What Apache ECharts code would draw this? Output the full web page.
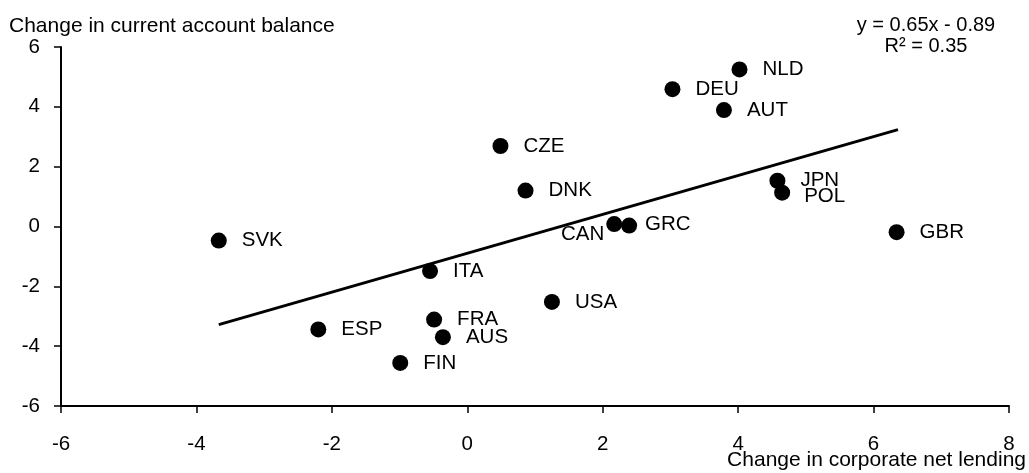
<!DOCTYPE html>
<html>
<head>
<meta charset="utf-8">
<script src="https://cdn.jsdelivr.net/npm/echarts@6/dist/echarts.min.js"></script>
<style>
html,body{margin:0;padding:0;background:#fff;}
#chart{width:1029px;height:473px;}
</style>
</head>
<body>
<div id="chart"></div>
<script>
// Country codes
var countries = ['SVK','ESP','FIN','ITA','FRA','AUS','CZE','DNK','USA','CAN','GRC','DEU','AUT','NLD','JPN','POL','GBR'];
// Change in corporate net lending (x)
var xValues = [-3.67,-2.20,-0.99,-0.55,-0.49,-0.36,0.49,0.86,1.25,2.17,2.39,3.03,3.79,4.02,4.58,4.65,6.34];
// Change in current account balance (y)
var yValues = [-0.47,-3.44,-4.56,-1.49,-3.11,-3.70,2.69,1.20,-2.52,0.08,0.03,4.59,3.89,5.25,1.53,1.13,-0.19];
// Trend line end points as drawn
var trendX = [-3.67, 6.36];
var trendY = [-3.28, 3.24];
// Texts
var yTitle = 'Change in current account balance';
var xTitle = 'Change in corporate net lending';
var eqText = 'y = 0.65x - 0.89';
var r2Text = 'R\u00b2 = 0.35';

var FONT = '"Liberation Sans", Arial, sans-serif';

var labelOverrides = {
  CAN: {position: 'left', distance: 2, offset: [0, 10]},
  GRC: {position: 'right', distance: 8, offset: [0, -1]},
  POL: {position: 'right', distance: 14, offset: [0, 4]}
};

var pts = countries.map(function (c, i) {
  var item = {name: c, value: [xValues[i], yValues[i]]};
  if (labelOverrides[c]) item.label = labelOverrides[c];
  return item;
});

var trendData = trendX.map(function (x, i) { return [x, trendY[i]]; });

var chart = echarts.init(document.getElementById('chart'), null, {renderer: 'canvas'});
chart.setOption({
  animation: false,
  backgroundColor: '#fff',
  grid: {left: 61, right: 20, top: 47, bottom: 67, containLabel: false},
  xAxis: {
    type: 'value', min: -6, max: 8, interval: 2,
    splitLine: {show: false},
    axisLine: {show: true, onZero: false, lineStyle: {color: '#000', width: 2}},
    axisTick: {show: true, length: 7, lineStyle: {color: '#000', width: 1.5}},
    axisLabel: {color: '#000', fontSize: 20.5, fontFamily: FONT, margin: 28}
  },
  yAxis: {
    type: 'value', min: -6, max: 6, interval: 2,
    splitLine: {show: false},
    axisLine: {show: true, onZero: false, lineStyle: {color: '#000', width: 2}},
    axisTick: {show: true, length: 7, lineStyle: {color: '#000', width: 1.5}},
    axisLabel: {color: '#000', fontSize: 20.5, fontFamily: FONT, margin: 21}
  },
  series: [
    {
      type: 'line',
      data: trendData,
      symbol: 'none',
      lineStyle: {color: '#000', width: 3, opacity: 1},
      z: 2
    },
    {
      type: 'scatter',
      data: pts,
      symbol: 'circle',
      symbolSize: 16,
      itemStyle: {color: '#000', opacity: 1},
      label: {
        show: true, position: 'right', distance: 15,
        formatter: '{b}', color: '#000', opacity: 1, fontSize: 20.5, fontFamily: FONT
      },
      z: 3
    }
  ],
  graphic: [
    {type: 'text', left: 9, top: 16, style: {text: yTitle, fill: '#000', font: '21px ' + FONT}},
    {type: 'text', right: 3, top: 450, style: {text: xTitle, fill: '#000', font: '21px ' + FONT}},
    {type: 'text', x: 926, y: 25.5, style: {text: eqText, fill: '#000', font: '20px ' + FONT, textAlign: 'center', textVerticalAlign: 'middle'}},
    {type: 'text', x: 926, y: 46, style: {text: r2Text, fill: '#000', font: '20px ' + FONT, textAlign: 'center', textVerticalAlign: 'middle'}}
  ]
});
</script>
</body>
</html>
